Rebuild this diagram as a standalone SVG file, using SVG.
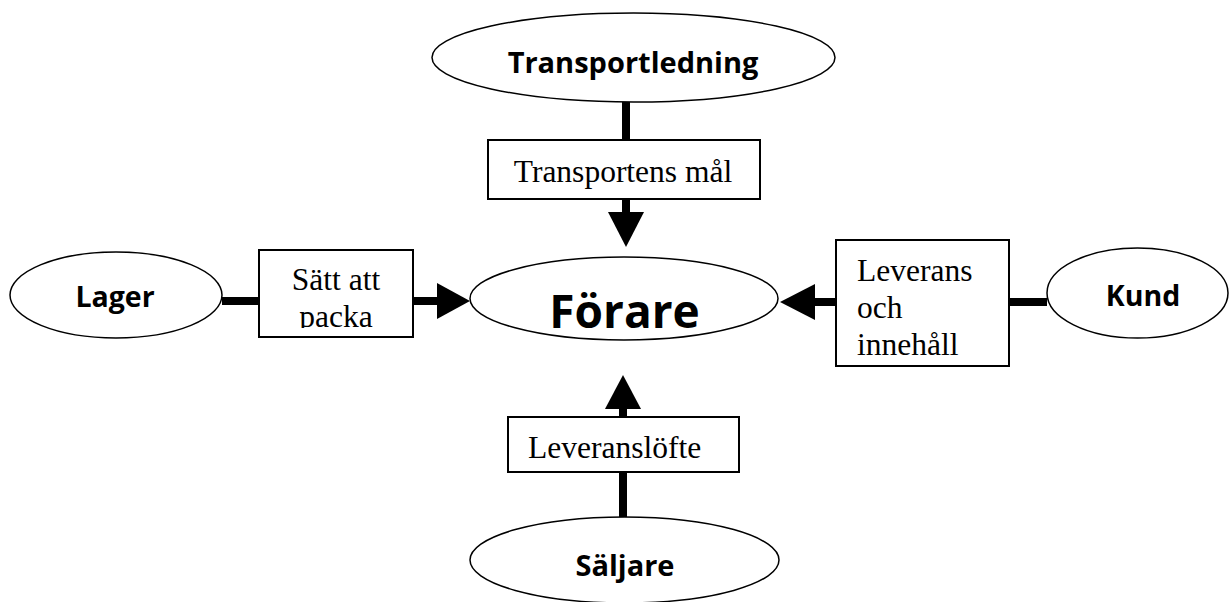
<svg xmlns="http://www.w3.org/2000/svg" width="1229" height="602" viewBox="0 0 1229 602">
  <style>
    .ell { fill: #fff; stroke: #000; stroke-width: 1.5; }
    .box { fill: #fff; stroke: #000; stroke-width: 2; }
    .bold { font-family: "Open Sans", "Noto Sans", "DejaVu Sans", sans-serif; font-weight: bold; fill: #000; }
    .serif { font-family: "Liberation Serif", "Times New Roman", serif; font-size: 31.5px; fill: #000; }
    .line { stroke: #000; stroke-width: 8; fill: none; }
    .head { fill: #000; stroke: none; }
  </style>
  <defs>
    <clipPath id="clipPacka"><rect x="259" y="250" width="154" height="78"/></clipPath>
  </defs>
  <rect width="1229" height="602" fill="#fff"/>

  <g id="connectors">
    <line class="line" x1="626" y1="102" x2="626" y2="140"/>
    <line class="line" x1="626" y1="199" x2="626" y2="214"/>
    <polygon class="head" points="608,212 644,212 626,247"/>

    <line class="line" x1="222" y1="301" x2="260" y2="301"/>
    <line class="line" x1="413" y1="301" x2="439" y2="301"/>
    <polygon class="head" points="437,283 437,319 470,301"/>

    <line class="line" x1="1009" y1="302" x2="1047" y2="302"/>
    <line class="line" x1="813" y1="302" x2="836" y2="302"/>
    <polygon class="head" points="815,284 815,320 780,302"/>

    <line class="line" x1="623" y1="472" x2="623" y2="517"/>
    <line class="line" x1="623" y1="407" x2="623" y2="417"/>
    <polygon class="head" points="605,409 641,409 623,375"/>
  </g>

  <g id="node-transportledning">
    <ellipse class="ell" cx="633.5" cy="57.5" rx="201.5" ry="44.5"/>
    <text class="bold" x="633" y="73" font-size="29" text-anchor="middle">Transportledning</text>
  </g>

  <g id="node-transportens-mal">
    <rect class="box" x="488" y="140" width="272" height="59"/>
    <text class="serif" x="623" y="182" text-anchor="middle">Transportens mål</text>
  </g>

  <g id="node-forare">
    <ellipse class="ell" cx="624" cy="298.5" rx="154" ry="41.5"/>
    <text class="bold" x="624.5" y="328" font-size="46" text-anchor="middle">Förare</text>
  </g>

  <g id="node-lager">
    <ellipse class="ell" cx="116" cy="295" rx="106" ry="43"/>
    <text class="bold" x="115" y="306.5" font-size="28.5" text-anchor="middle">Lager</text>
  </g>

  <g id="node-satt-att-packa">
    <rect class="box" x="259" y="250" width="154" height="87"/>
    <g clip-path="url(#clipPacka)">
      <text class="serif" x="336" y="290" text-anchor="middle">Sätt att</text>
      <text class="serif" x="336" y="327" text-anchor="middle">packa</text>
    </g>
  </g>

  <g id="node-leverans-och-innehall">
    <rect class="box" x="836" y="240" width="173" height="126"/>
    <text class="serif" x="857" y="281">Leverans</text>
    <text class="serif" x="857" y="318">och</text>
    <text class="serif" x="857" y="355">innehåll</text>
  </g>

  <g id="node-kund">
    <ellipse class="ell" cx="1137.5" cy="293" rx="90.5" ry="45"/>
    <text class="bold" x="1143" y="306" font-size="28.5" text-anchor="middle">Kund</text>
  </g>

  <g id="node-leveranslofte">
    <rect class="box" x="508" y="417" width="231" height="55"/>
    <text class="serif" x="528" y="458">Leveranslöfte</text>
  </g>

  <g id="node-saljare">
    <ellipse class="ell" cx="624.5" cy="560" rx="154.5" ry="43"/>
    <text class="bold" x="625" y="576" font-size="29" text-anchor="middle">Säljare</text>
  </g>
</svg>
